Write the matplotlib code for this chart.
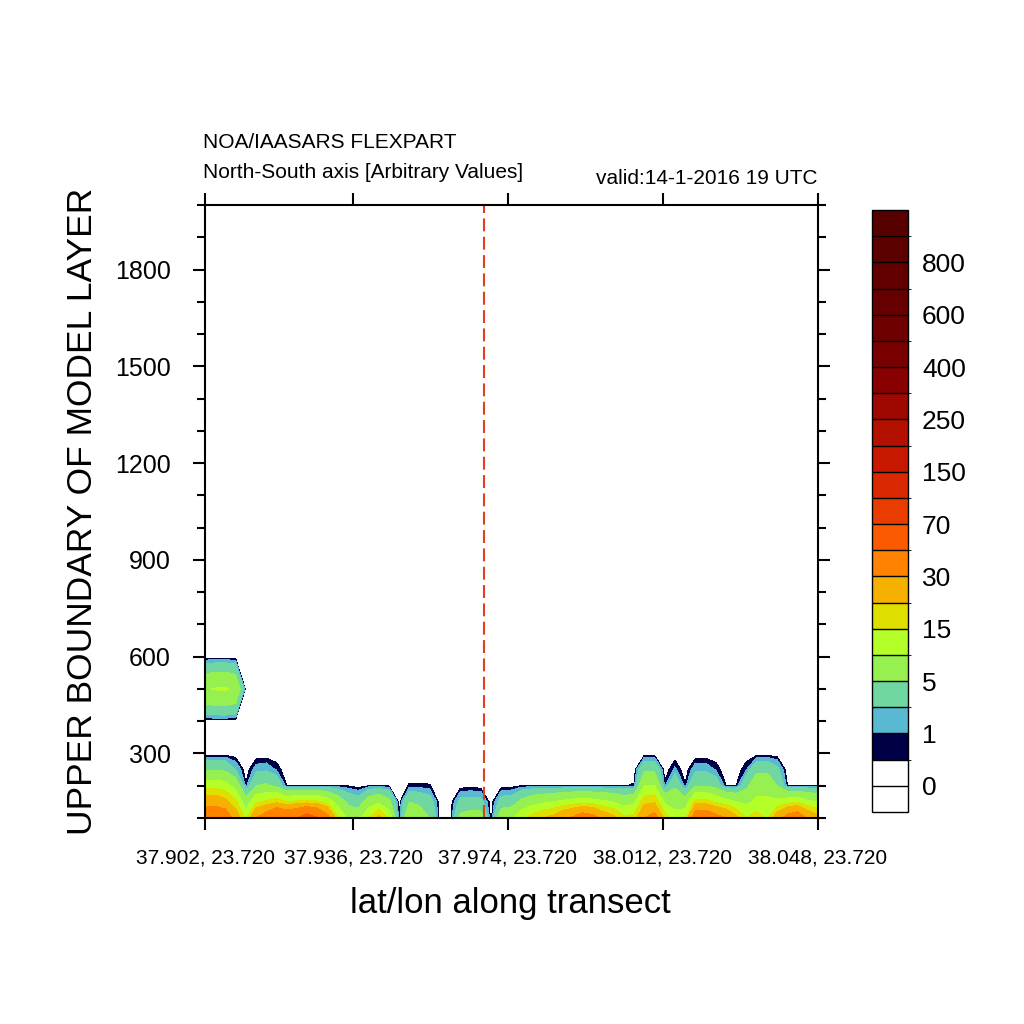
import numpy as np
import matplotlib
matplotlib.use("Agg")
import matplotlib.pyplot as plt
from matplotlib.colors import ListedColormap, BoundaryNorm

plt.rcParams['font.family'] = ['Liberation Sans', 'DejaVu Sans']

# contour levels and fill colours (first = below 0, last = above 900)
levels = [0, 0.5, 1, 2, 5, 10, 15, 20, 30, 50, 70, 100, 150, 200, 250,
          300, 400, 500, 600, 700, 800, 900]
label_levels = [0, 1, 5, 15, 30, 70, 150, 250, 400, 600, 800]
fill_colors = ['#ffffff', '#ffffff', '#000046', '#5ab9d2', '#70d7a0',
               '#96f050', '#b4ff28', '#e0e000', '#f5b000', '#ff8200',
               '#fc5a00', '#e83c00', '#da2800', '#c81800', '#b41000',
               '#9e0800', '#880000', '#780000', '#6e0000', '#660000',
               '#620000', '#5c0000', '#560000']

# model layer heights
heights = [100, 150, 200, 250, 300, 400, 500, 600, 2000]

# concentration along the transect, one list per layer (61 points)
row_100 = [42, 44, 40, 25, 14, 30, 38, 52, 45, 50,
           62, 52, 35, 16, 9, 8, 15, 22, 14, 0,
           10, 8, 5, 0, 0, 6, 7, 7, 0, 8,
           9, 14, 17, 20, 22, 28, 32, 38, 35, 26,
           22, 16, 17, 30, 36, 18, 12, 14, 40, 42,
           35, 30, 22, 15, 18, 14, 25, 35, 40, 28, 22]
row_150 = [24, 25, 22, 16, 7, 14, 16, 18, 15, 16,
           17, 16, 13, 8, 4, 3, 7, 9, 6, 0,
           5, 4, 3, 0, 0, 2.6, 2.8, 2.6, 0, 3,
           3.2, 6, 8, 9, 10, 11, 12, 13, 12, 11,
           10, 8, 9, 18, 19, 9, 8, 7, 17, 17,
           14, 12, 10, 9, 11, 11, 11, 13, 14, 11, 10]
row_200 = [13, 13, 12, 8, 0.6, 5, 5.5, 4, 0.52, 0.52,
           0.52, 0.52, 0.52, 0.52, 0.45, 0.2, 0.5, 0.52, 0.5, 0,
           0.6, 0.6, 0.55, 0, 0, 0.15, 0.15, 0.15, 0, 0.15,
           0.2, 0.52, 0.52, 0.52, 0.52, 0.52, 0.52, 0.52, 0.52, 0.52,
           0.52, 0.45, 0.6, 10, 10, 0.7, 4.5, 0.6, 4.8, 4.8,
           3.5, 0.52, 0.52, 4, 8, 8, 5, 0.52, 0.52, 0.52, 0.52]
row_250 = [4.5, 4.5, 4.3, 2.0, 0, 1.5, 1.7, 0.9, 0, 0,
           0, 0, 0, 0, 0, 0, 0, 0, 0, 0,
           0, 0, 0, 0, 0, 0, 0, 0, 0, 0,
           0, 0, 0, 0, 0, 0, 0, 0, 0, 0,
           0, 0, 0, 4.2, 4.2, 0, 1.2, 0, 1.67, 1.67,
           0.9, 0, 0, 1.0, 4.2, 4.2, 2.5, 0, 0, 0, 0]
blob_500 = [9.5, 10.3, 10.5, 9.0]

xtick_pos = [0, 14.5, 29.65, 44.8, 60]
xtick_labels = ["37.902, 23.720", "37.936, 23.720", "37.974, 23.720",
                "38.012, 23.720", "38.048, 23.720"]
transect_mark = 27.3

n = len(row_100)
x = np.arange(n)
conc = np.zeros((len(heights), n))
conc[0] = row_100
conc[1] = row_150
conc[2] = row_200
conc[3] = row_250
conc[6, :len(blob_500)] = blob_500

fig = plt.figure(figsize=(10.24, 10.24), dpi=100)
ax = fig.add_axes([205/1024, 1-818/1024, 613/1024, 613/1024])

cmap = ListedColormap(fill_colors[1:-1])
cmap.set_under(fill_colors[0])
cmap.set_over(fill_colors[-1])
norm = BoundaryNorm(levels, cmap.N)
cs = ax.contourf(x, heights, conc, levels=levels, cmap=cmap, norm=norm,
                 extend='both')

ax.axvline(transect_mark, color='#e0401e', lw=1.5, ls=(0, (6.2, 2.6)))

ax.set_xlim(0, n - 1)
ax.set_ylim(100, 2000)
ax.set_xticks(xtick_pos)
ax.set_xticklabels(xtick_labels, fontsize=15)
ax.set_yticks(range(300, 1801, 300))
ax.set_yticks(range(100, 2001, 100), minor=True)
ax.tick_params(axis='y', labelsize=18, pad=16)
ax.tick_params(axis='x', pad=13)
ax.tick_params(which='both', direction='out', top=True, right=True, width=1.5)
ax.tick_params(which='major', length=8.6)
ax.tick_params(which='minor', length=5.8)
for sp in ax.spines.values():
    sp.set_linewidth(1.5)

# colorbar
cax = fig.add_axes([872/1024, 1-812/1024, 36/1024, 602/1024])
cb = fig.colorbar(cs, cax=cax, extend='both', extendrect=True,
                  extendfrac='auto', drawedges=True, spacing='uniform')
cb.set_ticks(label_levels)
cb.set_ticklabels([str(v) for v in label_levels])
cb.ax.tick_params(length=0, labelsize=19, pad=10)
cb.outline.set_linewidth(1)
cb.dividers.set_linewidth(1)

# titles and axis labels
fig.text(203/1024, 1-142/1024, "NOA/IAASARS FLEXPART", fontsize=15,
         ha='left', va='center')
fig.text(203/1024, 1-173/1024, "North-South axis [Arbitrary Values]",
         fontsize=15, ha='left', va='center')
fig.text(818/1024, 1-178/1024, "valid:14-1-2016 19 UTC", fontsize=15,
         ha='right', va='center')
fig.text(83/1024, 1-511/1024, "UPPER BOUNDARY OF MODEL LAYER", fontsize=25.5,
         rotation=90, ha='center', va='center')
fig.text(510/1024, 1-904/1024, "lat/lon along transect", fontsize=25,
         ha='center', va='center')

fig.savefig("out.png", dpi=100)
